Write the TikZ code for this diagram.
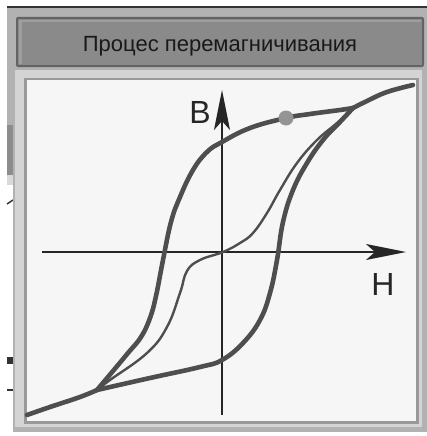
\documentclass[tikz,border=0pt]{standalone}
\usepackage{fontspec}
\setmainfont{Liberation Sans}
\usetikzlibrary{arrows.meta}
\definecolor{winback}{HTML}{B2B2B2}
\definecolor{btnface}{HTML}{8A8A8A}
\definecolor{btnedge}{HTML}{636363}
\definecolor{plotface}{HTML}{F6F6F6}
\definecolor{curvegray}{HTML}{4E4E4E}
\tikzset{
  bigloop/.style={draw=curvegray, line width=4.6pt, line cap=round, line join=round},
  thinloop/.style={draw=curvegray, line width=2.4pt, line cap=round},
  axisline/.style={draw=black!85, line width=1.8pt, -{Stealth[length=40pt, width=16pt, inset=9pt]}},
  axislabel/.style={font=\fontsize{32}{36}\selectfont, text=black!85, anchor=base},
}
\begin{document}
\begin{tikzpicture}[x=1pt, y=-1pt]
\useasboundingbox (0,0) rectangle (427,436);
\fill[white] (0,0) rectangle (427,436);
% window behind the plot
\fill[black!80] (7,6) rectangle (427,8);
\fill[winback] (7,8) rectangle (427,70);
\fill[winback] (7,70) rectangle (13,125);
\fill[black!45] (7,125) rectangle (13,175);
\fill[black!15] (7,175) rectangle (13,185);
\fill[black!80] (7,357) rectangle (13,364);
\fill[black!80] (7,389) rectangle (13,391);
\draw[black!80, line width=1.5pt] (7,204) -- (13,200);
% title button
\fill[btnedge, rounded corners=2pt] (16,17) rectangle (424,67);
\fill[btnface] (18,19) rectangle (422,65);
\fill[black!38] (19,20) rectangle (421,22);
\fill[black!38] (19,20) rectangle (22,64);
\node[font=\fontsize{22}{26}\selectfont, text=black!90, anchor=base] (title) at (220,52) {Процес перемагничивания};
% plot frame
\fill[black!30] (13,68) rectangle (427,432);
\fill[black!17] (15,70) rectangle (422,427);
\fill[black!40] (24,78) rectangle (419,424);
\fill[plotface] (27,80) rectangle (416,421);
% axes
\coordinate (hstart) at (42,252);
\coordinate (htip) at (406,252);
\coordinate (vstart) at (222,415);
\coordinate (vtip) at (222,90);
\draw[axisline] (hstart) -- (htip);
\draw[axisline] (vstart) -- (vtip);
\node[axislabel] (lblB) at (200,123) {B};
\node[axislabel] (lblH) at (383,295) {H};
% hysteresis loop
\draw[bigloop] plot[smooth, tension=0.7] coordinates {(27,415) (50,407) (80,397) (97,390)};
\draw[bigloop] plot[smooth, tension=0.7] coordinates {(97,390) (113,371) (128,353) (141,337) (150,318) (156,296) (163,260) (171,222) (180,197) (193,170) (207,152) (222,142) (250,128) (286,118) (310,114) (340,110) (353,108)};
\draw[bigloop] plot[smooth, tension=0.7] coordinates {(97,390) (150,378) (200,367) (222,360) (243,343) (260,320) (270,293) (277,260) (283,222) (293,190) (307,163) (323,140) (340,122) (353,108)};
\draw[bigloop] plot[smooth, tension=0.7] coordinates {(353,108) (367,101) (387,92) (413,85)};
\draw[thinloop] plot[smooth, tension=0.7] coordinates {(97,390) (110,380) (147,353) (167,327) (180,293) (187,271) (200,260) (223,252) (240,243) (253,233) (267,213) (280,190) (297,163) (317,140) (337,123) (353,108)};
\node[circle, fill=black!42, inner sep=0pt, minimum size=15pt] (marker) at (286,118) {};
\end{tikzpicture}
\end{document}
